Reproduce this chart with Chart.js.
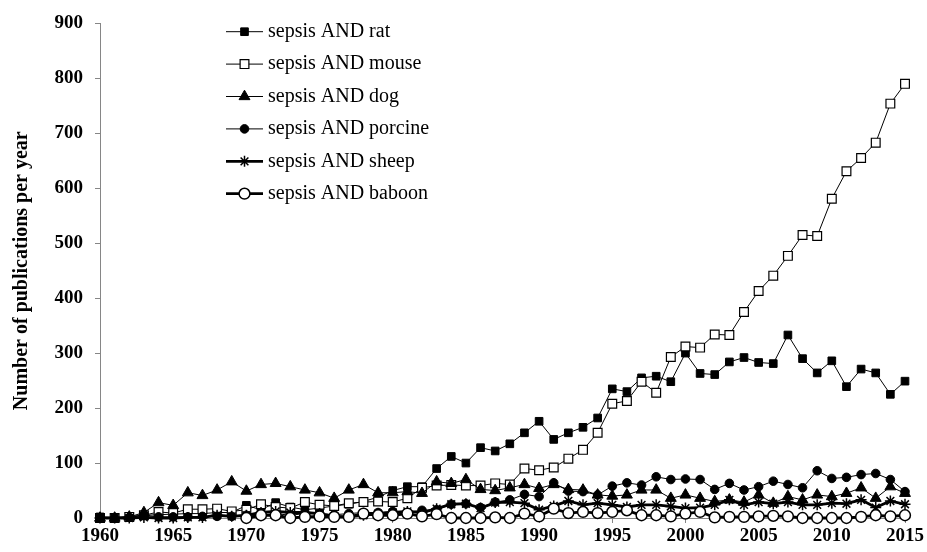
<!DOCTYPE html>
<html><head><meta charset="utf-8">
<script src="https://cdn.jsdelivr.net/npm/chart.js@4.4.1/dist/chart.umd.min.js"></script>
<style>html,body{margin:0;padding:0;background:#fff;}#wrap{width:927px;height:552px;}</style>
</head><body><div id="wrap"><canvas id="c" width="927" height="552"></canvas></div>
<script>
const years = [1960,1961,1962,1963,1964,1965,1966,1967,1968,1969,1970,1971,1972,1973,1974,1975,1976,1977,1978,1979,1980,1981,1982,1983,1984,1985,1986,1987,1988,1989,1990,1991,1992,1993,1994,1995,1996,1997,1998,1999,2000,2001,2002,2003,2004,2005,2006,2007,2008,2009,2010,2011,2012,2013,2014,2015];
const rat = [2,1,3,5,6,7,8,8,10,10, 23,15,28,20,15,18,22,25,30,38, 50,57,57,90,112,100,128,122,135,155, 176,143,155,165,182,235,230,255,258,248, 300,263,261,284,292,283,281,333,290,264, 286,239,271,264,225,249];
const mouse = [0,0,2,5,11,9,16,16,17,12, 15,25,20,18,29,24,22,27,29,30, 29,36,55,59,60,59,59,63,61,90, 87,92,108,124,155,208,213,248,228,293, 312,310,334,333,375,413,441,477,515,513, 581,631,655,683,754,790];
const dog = [0,0,2,10,28,23,46,41,51,66, 49,61,63,57,51,46,36,51,61,46, 46,48,45,66,63,70,52,50,55,61, 54,61,52,51,42,40,42,51,51,36, 42,36,30,33,29,42,27,39,33,42, 39,45,55,36,57,45];
const porcine = [0,0,1,5,2,2,2,3,3,3, 5,5,8,5,8,8,6,8,10,10, 12,10,14,15,25,26,19,29,33,43, 39,64,49,48,42,58,64,60,75,70, 71,70,52,63,51,57,67,61,55,86, 72,74,79,81,70,48];
const sheep = [0,0,0,1,0,0,1,1,5,3, 5,10,12,10,10,8,3,2,5,8, 10,12,10,17,25,26,18,28,29,27, 15,22,31,24,27,24,20,24,24,21, 18,19,24,33,24,29,26,29,24,24, 27,26,33,19,31,25];
const baboon = [null,null,null,null,null,null,null,null,null,null, 0,5,5,0,2,3,2,2,8,5, 5,8,3,7,0,0,0,1,0,8, 3,17,9,11,9,11,14,5,5,3, 8,11,1,2,2,3,4,3,0,0, 0,0,2,5,3,5];
const seriesNames = ['sepsis AND rat','sepsis AND mouse','sepsis AND dog','sepsis AND porcine','sepsis AND sheep','sepsis AND baboon'];
const yTicks = [0,100,200,300,400,500,600,700,800,900];
const xTicks = [1960,1965,1970,1975,1980,1985,1990,1995,2000,2005,2010,2015];

const serif = '"Liberation Serif","Times New Roman",serif';
const styles = [
  {ps:'rect', r:5.4, fill:'#000', bw:1, lw:1},
  {ps:'rect', r:6.2, fill:'#fff', bw:1.2, lw:1},
  {ps:'triangle', r:6.3, fill:'#000', bw:1, lw:1},
  {ps:'circle', r:4.3, fill:'#000', bw:1, lw:1},
  {ps:'star', r:5.5, fill:'#000', bw:1.5, lw:2.8},
  {ps:'circle', r:5.4, fill:'#fff', bw:1.5, lw:2.8}
];
const values = [rat, mouse, dog, porcine, sheep, baboon];
const datasets = values.map((arr, i) => ({
  label: seriesNames[i],
  data: years.map((y, k) => ({x: y, y: arr[k]})),
  borderColor: '#000',
  borderWidth: styles[i].lw,
  backgroundColor: styles[i].fill,
  pointStyle: styles[i].ps,
  pointRadius: styles[i].r,
  pointBorderWidth: styles[i].bw,
  pointBorderColor: '#000',
  pointBackgroundColor: styles[i].fill,
  tension: 0,
  fill: false,
  clip: false,
  spanGaps: false,
  order: 6 - i
}));

function drawMarker(ctx, s, x, y) {
  ctx.save();
  ctx.fillStyle = s.fill; ctx.strokeStyle = '#000'; ctx.lineWidth = s.bw;
  ctx.beginPath();
  const r = s.r;
  if (s.ps === 'rect') {
    const h = Math.SQRT1_2 * r;
    ctx.rect(x - h, y - h, 2*h, 2*h);
    ctx.fill(); ctx.stroke();
  } else if (s.ps === 'circle') {
    ctx.arc(x, y, r, 0, Math.PI*2);
    ctx.fill(); ctx.stroke();
  } else if (s.ps === 'triangle') {
    let a = 0;
    ctx.moveTo(x + Math.sin(a)*r, y - Math.cos(a)*r);
    a += 2*Math.PI/3; ctx.lineTo(x + Math.sin(a)*r, y - Math.cos(a)*r);
    a += 2*Math.PI/3; ctx.lineTo(x + Math.sin(a)*r, y - Math.cos(a)*r);
    ctx.closePath(); ctx.fill(); ctx.stroke();
  } else if (s.ps === 'star') {
    for (let k = 0; k < 4; k++) {
      const a = k*Math.PI/4;
      ctx.moveTo(x + Math.cos(a)*r, y + Math.sin(a)*r);
      ctx.lineTo(x - Math.cos(a)*r, y - Math.sin(a)*r);
    }
    ctx.stroke();
  }
  ctx.restore();
}

const legendPlugin = {
  id: 'customLegend',
  afterDraw(chart) {
    const ctx = chart.ctx;
    const x0 = 226, x1 = 263, xm = 244.5, xt = 268;
    seriesNames.forEach((name, i) => {
      const y = 31.7 + i * 32.4;
      ctx.save();
      ctx.strokeStyle = '#000';
      ctx.lineWidth = styles[i].lw;
      ctx.beginPath(); ctx.moveTo(x0, y); ctx.lineTo(x1, y); ctx.stroke();
      ctx.restore();
      drawMarker(ctx, styles[i], xm, y);
      ctx.save();
      ctx.fillStyle = '#000';
      ctx.font = '20px ' + serif;
      ctx.textBaseline = 'middle';
      ctx.textAlign = 'left';
      ctx.fillText(name, xt, y);
      ctx.restore();
    });
  }
};

new Chart(document.getElementById('c'), {
  type: 'line',
  data: { datasets },
  plugins: [legendPlugin],
  options: {
    responsive: false,
    animation: false,
    devicePixelRatio: 1,
    layout: { padding: { left: 10, right: 22, top: 9, bottom: 0 } },
    plugins: { legend: { display: false }, tooltip: { enabled: false } },
    scales: {
      x: {
        type: 'linear', min: 1960, max: 2015,
        afterBuildTicks(s) { s.ticks = xTicks.map(v => ({value: v})); },
        ticks: { stepSize: 5, autoSkip: false, maxRotation: 0, color: '#000', padding: 2,
                 font: { family: serif, size: 19, weight: 'bold' }, callback: v => String(v) },
        grid: { drawOnChartArea: false, drawTicks: true, tickLength: 5, color: '#868686' },
        border: { color: '#868686', width: 1 },
        afterFit(s) { s.height = 34; }
      },
      y: {
        min: 0, max: 900,
        afterBuildTicks(s) { s.ticks = yTicks.map(v => ({value: v})); },
        ticks: { stepSize: 100, color: '#000', padding: 12,
                 font: { family: serif, size: 19, weight: 'bold' }, callback: v => String(v) },
        grid: { drawOnChartArea: false, drawTicks: true, tickLength: 5, color: '#868686' },
        border: { color: '#868686', width: 1 },
        title: { display: true, text: 'Number of publications per year', color: '#000',
                 font: { family: serif, size: 20, weight: 'bold' }, padding: { top: 0, bottom: 0 } },
        afterFit(s) { s.width = 90; }
      }
    }
  }
});
</script></body></html>
